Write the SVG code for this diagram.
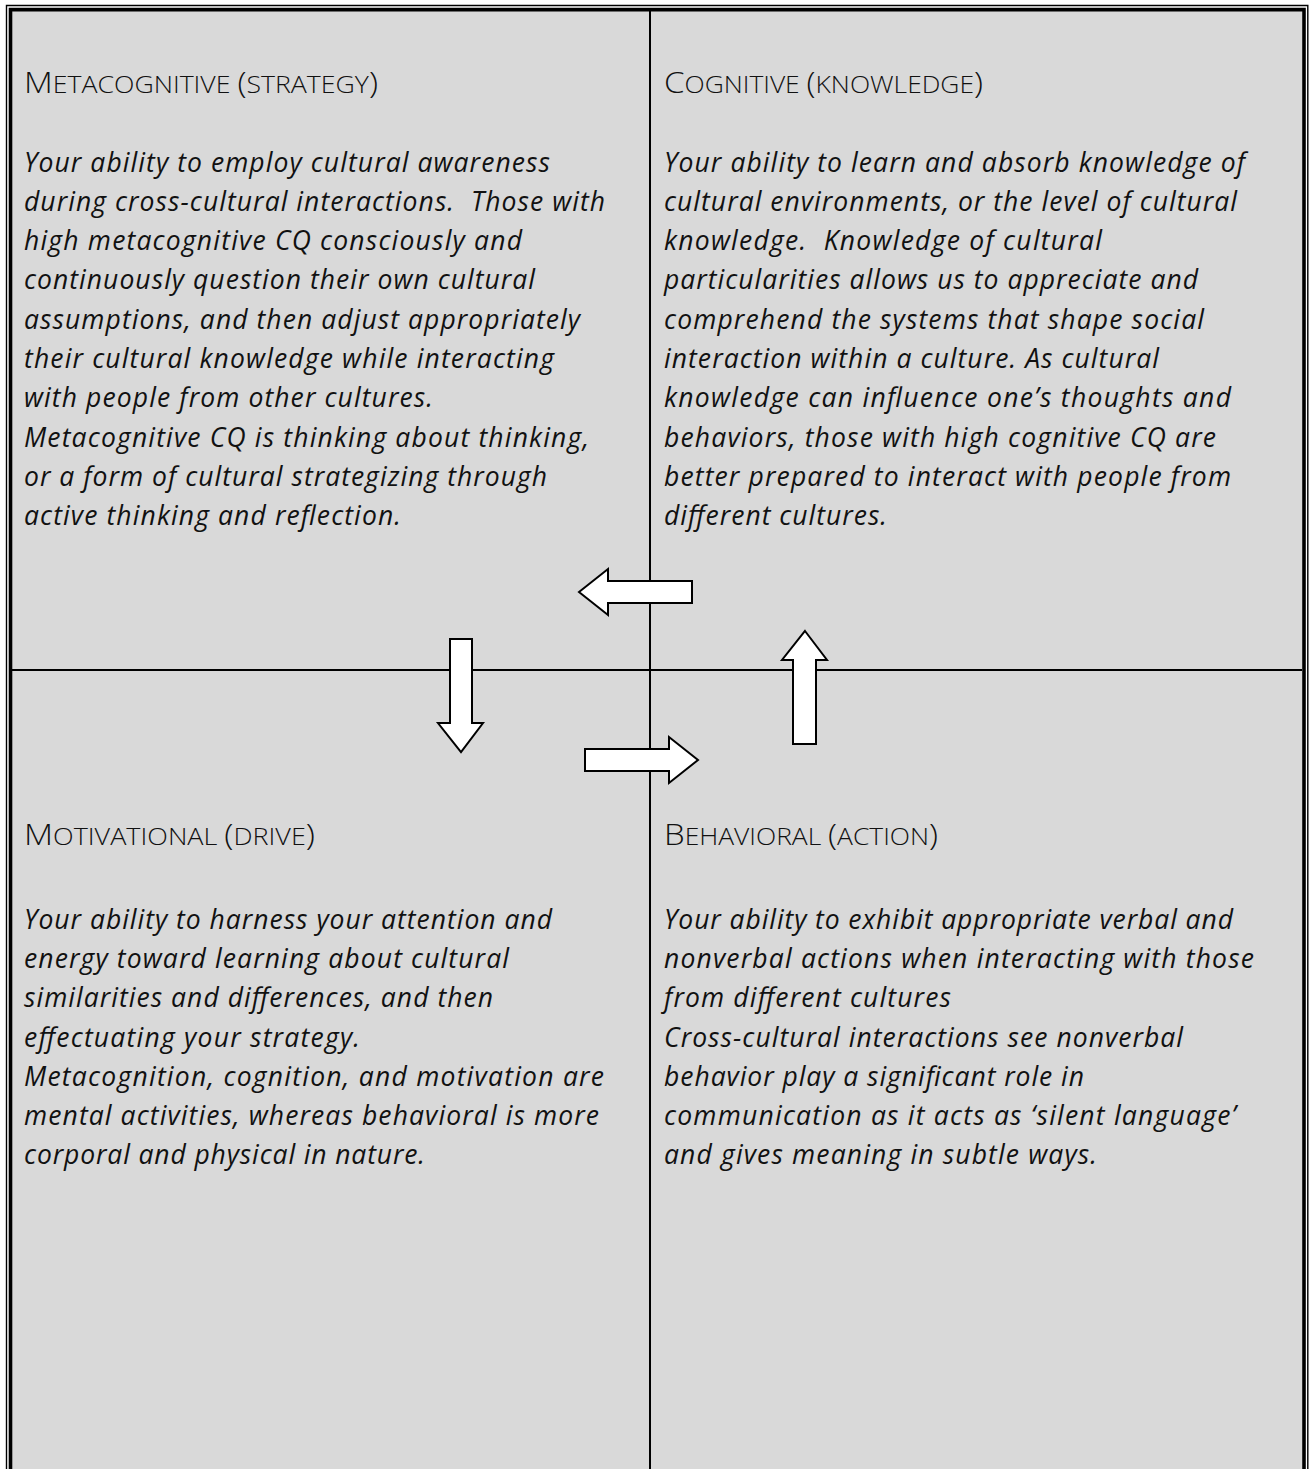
<svg xmlns="http://www.w3.org/2000/svg" width="1316" height="1469" viewBox="0 0 1316 1469">
<style>
.bg{fill:#d9d9d9}
.thin{fill:none;stroke:#000;stroke-width:1.4}
.thick{fill:none;stroke:#000;stroke-width:3.6}
.div{stroke:#000;stroke-width:2;fill:none}
.arrow{fill:#fff;stroke:#000;stroke-width:2;stroke-linejoin:miter}
.title{font-family:"Open Sans","Liberation Sans",sans-serif;font-weight:300;fill:#111;font-size:30px}
.sc{font-size:24px}
.body text{font-family:"Open Sans","Liberation Sans",sans-serif;font-style:italic;fill:#111;font-size:26.5px;white-space:pre}
</style>
<rect width="1316" height="1469" fill="#fff"/>
<g id="frame">
<rect class="bg" x="12" y="11" width="1290" height="1458"/>
<path class="thin" d="M6.5,1469 V5.5 H1307.8 V1469"/>
<path class="thick" d="M10.5,1469 V9.6 H1304 V1469"/>
<line class="div" x1="650" y1="11" x2="650" y2="1469"/>
<line class="div" x1="12" y1="670" x2="1302" y2="670"/>
</g>
<g id="q-metacognitive">
<text class="title" x="24" y="93" textLength="354" lengthAdjust="spacingAndGlyphs">M<tspan class="sc">ETACOGNITIVE </tspan>(<tspan class="sc">STRATEGY</tspan>)</text>
<g class="body">
<text x="24" y="171.5" textLength="526">Your ability to employ cultural awareness</text>
<text x="24" y="210.8" textLength="581">during cross-cultural interactions.  Those with</text>
<text x="24" y="250.1" textLength="498">high metacognitive CQ consciously and</text>
<text x="24" y="289.4" textLength="511">continuously question their own cultural</text>
<text x="24" y="328.7" textLength="556">assumptions, and then adjust appropriately</text>
<text x="24" y="368" textLength="530">their cultural knowledge while interacting</text>
<text x="24" y="407.3" textLength="409">with people from other cultures.</text>
<text x="24" y="446.6" textLength="565">Metacognitive CQ is thinking about thinking,</text>
<text x="24" y="485.9" textLength="523">or a form of cultural strategizing through</text>
<text x="24" y="525.2" textLength="377">active thinking and reflection.</text>
</g>
</g>
<g id="q-cognitive">
<text class="title" x="664" y="93" textLength="319" lengthAdjust="spacingAndGlyphs">C<tspan class="sc">OGNITIVE </tspan>(<tspan class="sc">KNOWLEDGE</tspan>)</text>
<g class="body">
<text x="664" y="171.5" textLength="581">Your ability to learn and absorb knowledge of</text>
<text x="664" y="210.8" textLength="573">cultural environments, or the level of cultural</text>
<text x="664" y="250.1" textLength="438">knowledge.  Knowledge of cultural</text>
<text x="664" y="289.4" textLength="534">particularities allows us to appreciate and</text>
<text x="664" y="328.7" textLength="540">comprehend the systems that shape social</text>
<text x="664" y="368" textLength="495">interaction within a culture. As cultural</text>
<text x="664" y="407.3" textLength="567">knowledge can influence one’s thoughts and</text>
<text x="664" y="446.6" textLength="552">behaviors, those with high cognitive CQ are</text>
<text x="664" y="485.9" textLength="567">better prepared to interact with people from</text>
<text x="664" y="525.2" textLength="223">different cultures.</text>
</g>
</g>
<g id="q-motivational">
<text class="title" x="24" y="845" textLength="291" lengthAdjust="spacingAndGlyphs">M<tspan class="sc">OTIVATIONAL </tspan>(<tspan class="sc">DRIVE</tspan>)</text>
<g class="body">
<text x="24" y="929" textLength="528">Your ability to harness your attention and</text>
<text x="24" y="968.2" textLength="485">energy toward learning about cultural</text>
<text x="24" y="1007.4" textLength="469">similarities and differences, and then</text>
<text x="24" y="1046.6" textLength="336">effectuating your strategy.</text>
<text x="24" y="1085.8" textLength="580">Metacognition, cognition, and motivation are</text>
<text x="24" y="1125" textLength="575">mental activities, whereas behavioral is more</text>
<text x="24" y="1164.2" textLength="401">corporal and physical in nature.</text>
</g>
</g>
<g id="q-behavioral">
<text class="title" x="664" y="845" textLength="274" lengthAdjust="spacingAndGlyphs">B<tspan class="sc">EHAVIORAL </tspan>(<tspan class="sc">ACTION</tspan>)</text>
<g class="body">
<text x="664" y="929" textLength="569">Your ability to exhibit appropriate verbal and</text>
<text x="664" y="968.2" textLength="590">nonverbal actions when interacting with those</text>
<text x="664" y="1007.4" textLength="287">from different cultures</text>
<text x="664" y="1046.6" textLength="519">Cross-cultural interactions see nonverbal</text>
<text x="664" y="1085.8" textLength="420">behavior play a significant role in</text>
<text x="664" y="1125" textLength="572">communication as it acts as ‘silent language’</text>
<text x="664" y="1164.2" textLength="433">and gives meaning in subtle ways.</text>
</g>
</g>
<g id="connectors">
<polygon class="arrow" points="579,592 608,569 608,581 692,581 692,603 608,603 608,615"/>
<polygon class="arrow" points="805,631 827,660 816,660 816,744 793,744 793,660 782,660"/>
<polygon class="arrow" points="585,749 669,749 669,737 698,760 669,783 669,771 585,771"/>
<polygon class="arrow" points="450,639 472,639 472,723 483,723 461,752 438,723 450,723"/>
</g>
</svg>
